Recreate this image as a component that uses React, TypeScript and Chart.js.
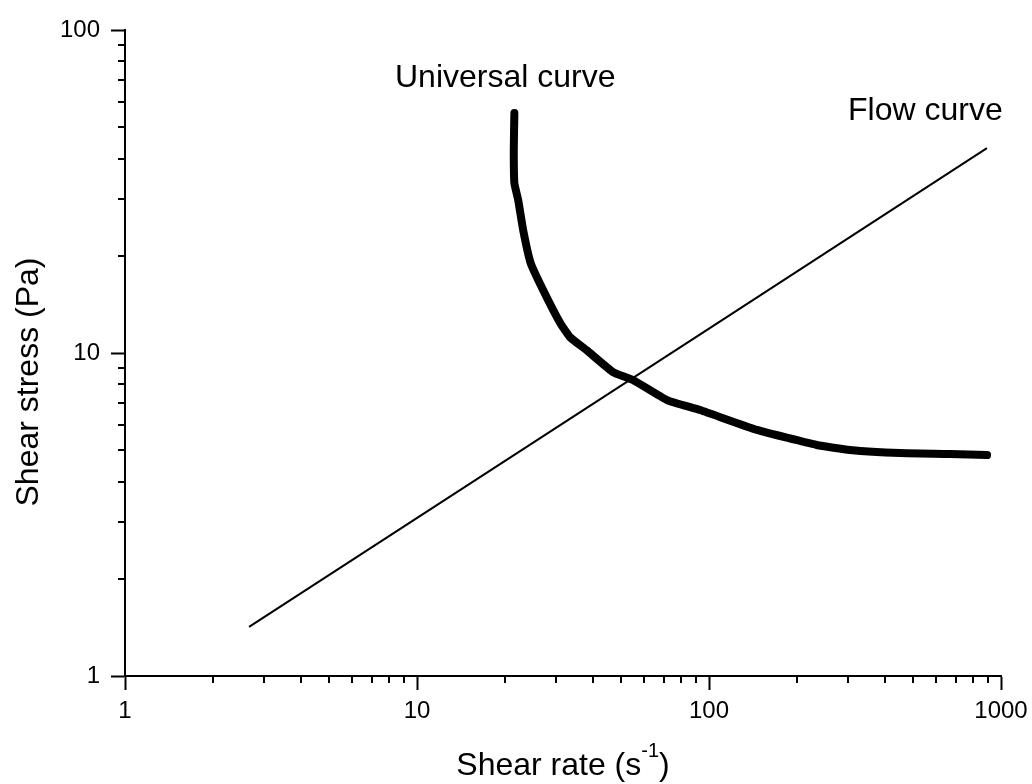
import React, { useEffect, useRef } from "react";
import { Chart, registerables } from "chart.js";

Chart.register(...registerables);

// Universal curve (thick): shear rate (1/s) vs shear stress (Pa)
const universalRate = [21.55, 21.45, 21.55, 22.2, 23.1, 24.5, 27.0, 30.9, 33.4, 38.1, 46.9, 54.9, 71.8, 93.2, 146, 234, 304, 451, 669, 896];
const universalStress = [55.3, 42.5, 33.6, 29.8, 24.0, 19.0, 15.7, 12.4, 11.2, 10.2, 8.73, 8.25, 7.15, 6.66, 5.78, 5.19, 5.01, 4.9, 4.87, 4.83];

// Flow curve (thin straight line on log-log axes)
const flowRate = [2.66, 100, 895];
const flowStress = [1.42, 11.9, 43.1];

// Labelled decade ticks
const xTickLabels = [1, 10, 100, 1000];
const yTickLabels = [1, 10, 100];

const FONT = '"Liberation Sans", Arial, Helvetica, sans-serif';

const isDecade = (v: number) => Math.abs(Math.log10(v) - Math.round(Math.log10(v))) < 1e-9;

// every 2..9 × decade value between the given decade labels
const minorValues = (decades: number[]) => {
  const out: number[] = [];
  for (let i = 0; i < decades.length - 1; i++) {
    for (let m = 2; m <= 9; m++) out.push(decades[i] * m);
  }
  return out;
};

const annotationPlugin = {
  id: "rheologyAnnotations",
  afterDraw(chart: any) {
    const { ctx, chartArea, scales } = chart;
    const xs = scales.x;
    const ys = scales.y;
    ctx.save();

    // minor tick marks (short, outward)
    ctx.strokeStyle = "#000";
    ctx.lineWidth = 2;
    ctx.beginPath();
    for (const v of minorValues(xTickLabels)) {
      const px = Math.round(xs.getPixelForValue(v));
      ctx.moveTo(px, chartArea.bottom);
      ctx.lineTo(px, chartArea.bottom + 7);
    }
    for (const v of minorValues(yTickLabels)) {
      const py = Math.round(ys.getPixelForValue(v));
      ctx.moveTo(chartArea.left, py);
      ctx.lineTo(chartArea.left - 7, py);
    }
    ctx.stroke();

    ctx.fillStyle = "#000";
    ctx.textBaseline = "alphabetic";

    // x axis title with superscript
    const big = `32px ${FONT}`;
    const small = `20px ${FONT}`;
    const partA = "Shear rate (s";
    const sup = "-1";
    const partB = ")";
    ctx.font = big;
    const wA = ctx.measureText(partA).width;
    const wB = ctx.measureText(partB).width;
    ctx.font = small;
    const wS = ctx.measureText(sup).width;
    const total = wA + wS + wB;
    const cx = (chartArea.left + chartArea.right) / 2;
    let x0 = cx - total / 2;
    const base = 775;
    ctx.textAlign = "left";
    ctx.font = big;
    ctx.fillText(partA, x0, base);
    x0 += wA;
    ctx.font = small;
    ctx.fillText(sup, x0, base - 18);
    x0 += wS;
    ctx.font = big;
    ctx.fillText(partB, x0, base);

    // y axis title
    ctx.save();
    ctx.translate(38, 382);
    ctx.rotate(-Math.PI / 2);
    ctx.textAlign = "center";
    ctx.font = big;
    ctx.fillText("Shear stress (Pa)", 0, 0);
    ctx.restore();

    // curve labels
    ctx.textAlign = "left";
    ctx.font = big;
    ctx.fillText("Universal curve", 395, 87);
    ctx.fillText("Flow curve", 848, 120);

    ctx.restore();
  },
};

export default function App() {
  const canvasRef = useRef<HTMLCanvasElement | null>(null);

  useEffect(() => {
    if (!canvasRef.current) return;
    const tickColor = (c: any) => (c.tick && isDecade(c.tick.value) ? "#000" : "rgba(0,0,0,0)");
    const chart = new Chart(canvasRef.current, {
      type: "line",
      data: {
        datasets: [
          {
            label: "Universal curve",
            data: universalRate.map((x, i) => ({ x, y: universalStress[i] })),
            borderColor: "#000",
            borderWidth: 8,
            borderCapStyle: "round",
            borderJoinStyle: "round",
            pointRadius: 0,
            tension: 0.15,
            fill: false,
          },
          {
            label: "Flow curve",
            data: flowRate.map((x, i) => ({ x, y: flowStress[i] })),
            borderColor: "#000",
            borderWidth: 2,
            pointRadius: 0,
            tension: 0,
            fill: false,
          },
        ],
      },
      options: {
        animation: false,
        responsive: false,
        devicePixelRatio: 1,
        layout: { padding: { left: 0, top: 30, right: 31, bottom: 0 } },
        plugins: { legend: { display: false }, tooltip: { enabled: false } },
        scales: {
          x: {
            type: "logarithmic",
            position: "bottom",
            min: 1,
            max: 1000,
            afterBuildTicks: (scale: any) => {
              const vals = [...xTickLabels, ...minorValues(xTickLabels)].sort((a, b) => a - b);
              scale.ticks = vals.map((value) => ({ value }));
            },
            afterFit: (scale: any) => {
              scale.height = 108;
              scale.paddingLeft = 0;
              scale.paddingRight = 0;
            },
            ticks: {
              autoSkip: false,
              maxRotation: 0,
              padding: 7,
              color: "#000",
              font: { family: FONT, size: 24 },
              callback: (v: any) => (isDecade(Number(v)) ? String(Number(v)) : ""),
            },
            grid: {
              display: true,
              drawOnChartArea: false,
              drawTicks: true,
              tickLength: 14,
              tickWidth: 2,
              tickColor,
            },
            border: { display: true, color: "#000", width: 2 },
          },
          y: {
            type: "logarithmic",
            position: "left",
            min: 1,
            max: 100,
            afterBuildTicks: (scale: any) => {
              const vals = [...yTickLabels, ...minorValues(yTickLabels)].sort((a, b) => a - b);
              scale.ticks = vals.map((value) => ({ value }));
            },
            afterFit: (scale: any) => {
              scale.width = 125;
              scale.paddingTop = 0;
              scale.paddingBottom = 0;
            },
            ticks: {
              autoSkip: false,
              padding: 11,
              color: "#000",
              font: { family: FONT, size: 24 },
              callback: (v: any) => (isDecade(Number(v)) ? String(Number(v)) : ""),
            },
            grid: {
              display: true,
              drawOnChartArea: false,
              drawTicks: true,
              tickLength: 14,
              tickWidth: 2,
              tickColor,
            },
            border: { display: true, color: "#000", width: 2 },
          },
        },
      },
      plugins: [annotationPlugin],
    } as any);
    return () => chart.destroy();
  }, []);

  return (
    <div style={{ position: "fixed", left: 0, top: 0, width: 1032, height: 784, background: "#fff" }}>
      <canvas ref={canvasRef} width={1032} height={784} />
    </div>
  );
}
